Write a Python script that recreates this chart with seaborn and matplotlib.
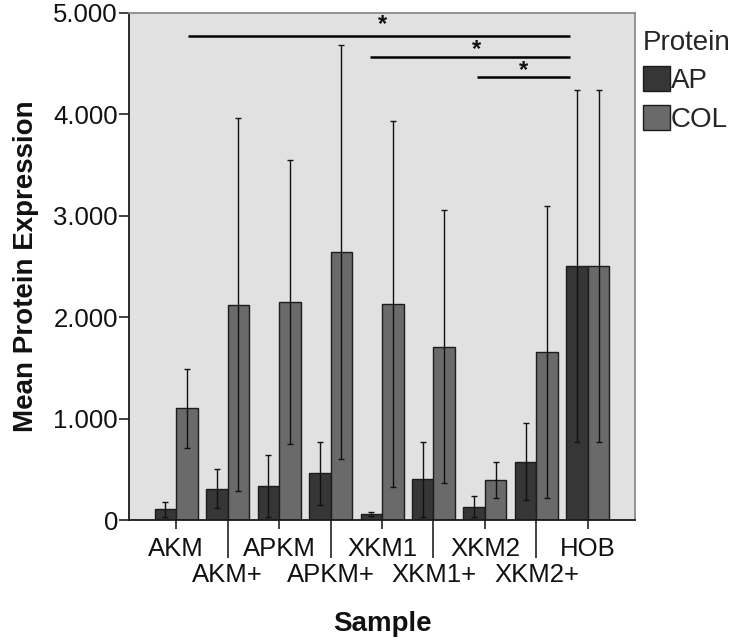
import matplotlib
matplotlib.use("Agg")
import matplotlib.pyplot as plt
from matplotlib.ticker import FuncFormatter, FixedLocator
import numpy as np
import pandas as pd
import seaborn as sns

# Samples and proteins
samples = ["AKM", "AKM+", "APKM", "APKM+", "XKM1", "XKM1+", "XKM2", "XKM2+", "HOB"]
proteins = ["AP", "COL"]

# Mean expression and error half-widths per protein
ap_mean = [0.105, 0.31, 0.335, 0.46, 0.056, 0.40, 0.131, 0.575, 2.505]
ap_err = [0.075, 0.193, 0.31, 0.31, 0.02, 0.366, 0.105, 0.38, 1.735]
col_mean = [1.10, 2.125, 2.15, 2.64, 2.13, 1.71, 0.394, 1.654, 2.505]
col_err = [0.387, 1.84, 1.40, 2.04, 1.80, 1.35, 0.178, 1.44, 1.735]

# Significance brackets: start, end, height, star position
sig_x0 = [0.23, 3.77, 5.84]
sig_x1 = [7.65, 7.65, 7.65]
sig_y = [4.77, 4.57, 4.37]
star_x = [4.0, 5.84, 6.74]
star_y = [4.77, 4.53, 4.32]

ytick_vals = [0, 1, 2, 3, 4, 5]

df = pd.DataFrame({
    "Sample": samples * 2,
    "Protein": ["AP"] * len(samples) + ["COL"] * len(samples),
    "Mean": ap_mean + col_mean,
})
errs = {"AP": ap_err, "COL": col_err}

sns.set_style("white")
plt.rcParams["font.family"] = ["Liberation Sans", "DejaVu Sans"]

fig = plt.figure(figsize=(7.33, 6.4), dpi=100)
ax = fig.add_axes([0.176, 0.1875, 0.6903, 0.7922])
ax.set_facecolor("#e1e1e1")

palette = {"AP": "#363636", "COL": "#6a6a6a"}
sns.barplot(data=df, x="Sample", y="Mean", hue="Protein", order=samples,
            hue_order=proteins, palette=palette, errorbar=None, width=0.835,
            edgecolor="#1c1c1c", linewidth=1.0, saturation=1, ax=ax)

# Error bars centred on each drawn bar
for container, prot in zip(ax.containers, proteins):
    xs = [p.get_x() + p.get_width() / 2 for p in container.patches]
    hs = [p.get_height() for p in container.patches]
    ax.errorbar(xs, hs, yerr=errs[prot], fmt="none", ecolor="#111111",
                elinewidth=1.0, capsize=2.2, capthick=1.0, zorder=5)

# Significance lines with stars
for x0, x1, y in zip(sig_x0, sig_x1, sig_y):
    ax.plot([x0, x1], [y, y], color="#000000", lw=1.8, solid_capstyle="butt", zorder=6)
for sx, sy in zip(star_x, star_y):
    ax.text(sx, sy, "*", ha="center", va="bottom", fontsize=17,
            fontweight="bold", color="#111111")

ax.set_xlim(-0.913, 8.913)
ax.set_ylim(0, 5)

# Alternating two-row category labels
ax.xaxis.set_major_locator(FixedLocator([0, 2, 4, 6, 8]))
ax.set_xticklabels([samples[i] for i in [0, 2, 4, 6, 8]])
ax.set_xticks([1, 3, 5, 7], labels=[samples[i] for i in [1, 3, 5, 7]], minor=True)
ax.tick_params(axis="x", which="major", length=6.5, width=1.2, color="#222222",
               pad=5.5, labelsize=18.5, labelcolor="#111111", direction="out", bottom=True)
ax.tick_params(axis="x", which="minor", length=27, width=1.2, color="#222222",
               pad=4.0, labelsize=18.5, labelcolor="#111111", direction="out", bottom=True)

ax.set_yticks(ytick_vals)
ax.yaxis.set_major_formatter(FuncFormatter(lambda v, p: "0" if v == 0 else f"{v:.3f}"))
ax.tick_params(axis="y", length=7, width=1.2, color="#222222", pad=1,
               labelsize=18.5, labelcolor="#111111", direction="out", left=True)

ax.set_xlabel("Sample", fontsize=20, fontweight="bold", labelpad=17, color="#111111")
ax.set_ylabel("Mean Protein Expression", fontsize=20, fontweight="bold", labelpad=10,
              color="#111111")

for side in ["left", "bottom"]:
    ax.spines[side].set_color("#1a1a1a")
    ax.spines[side].set_linewidth(1.3)
for side in ["top", "right"]:
    ax.spines[side].set_color("#8a8a8a")
    ax.spines[side].set_linewidth(1.3)
    ax.spines[side].set_visible(True)

leg = ax.legend(title="Protein", loc="upper left", bbox_to_anchor=(1.0158, 0.967),
                frameon=False, fontsize=20, title_fontsize=20, handlelength=0.97,
                handleheight=1.0, handletextpad=0.02, labelspacing=0.38,
                borderaxespad=0.0, borderpad=0.0, alignment="left")
for h in leg.legend_handles:
    h.set_edgecolor("#1c1c1c")
    h.set_linewidth(1.0)

fig.savefig("out.png", dpi=100)
